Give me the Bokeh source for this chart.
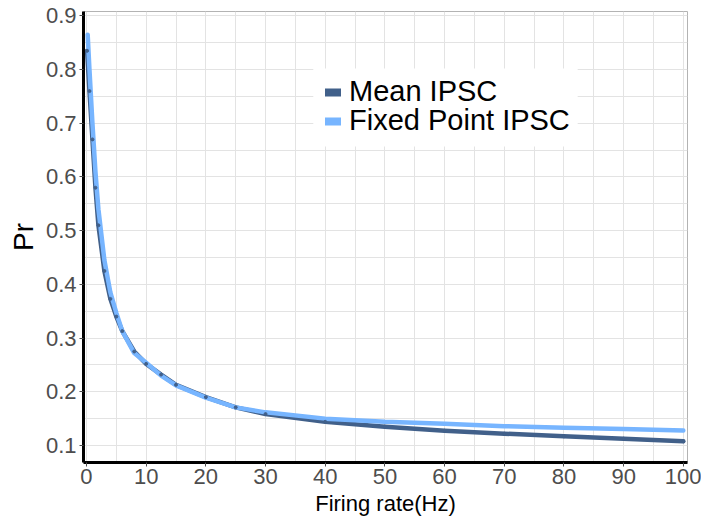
from bokeh.plotting import figure
from bokeh.models import Range1d, Legend, LegendItem, ColumnDataSource, FixedTicker, BoxAnnotation
from bokeh.embed import file_html
from bokeh.resources import INLINE

# Data
mean_rate = [0.1, 0.5, 1, 1.5, 2, 3, 4, 5, 6, 8, 10, 12.5, 15, 20, 25, 30, 40, 50, 60, 70, 80, 90, 100]
mean_pr = [0.835, 0.76, 0.67, 0.58, 0.51, 0.425, 0.373, 0.34, 0.313, 0.275, 0.252, 0.232, 0.213,
           0.19, 0.171, 0.1585, 0.144, 0.135, 0.1275, 0.122, 0.117, 0.1127, 0.1077]
fixed_rate = [0.2, 0.5, 1, 1.5, 2, 3, 4, 5, 6, 8, 10, 12.5, 15, 20, 25, 30, 40, 50, 60, 70, 80, 90, 100]
fixed_pr = [0.865, 0.80, 0.70, 0.61, 0.54, 0.445, 0.385, 0.347, 0.313, 0.272, 0.254, 0.230, 0.212,
            0.189, 0.171, 0.1617, 0.150, 0.144, 0.1405, 0.136, 0.133, 0.1305, 0.128]
x_ticks = [0, 10, 20, 30, 40, 50, 60, 70, 80, 90, 100]
y_ticks = [0.1, 0.2, 0.3, 0.4, 0.5, 0.6, 0.7, 0.8, 0.9]
series_names = ["Mean IPSC", "Fixed Point IPSC"]
series_colors = ["#41608A", "#77B5FF"]

p = figure(width=701, height=520, output_backend="svg", toolbar_location=None,
           x_range=Range1d(-0.5, 100.7), y_range=Range1d(0.0683, 0.9082),
           min_border_left=83, min_border_right=14, min_border_top=11, min_border_bottom=58)

p.background_fill_color = "white"
p.border_fill_color = "white"
p.outline_line_color = "#b3b3b3"
p.outline_line_width = 1

for g in (p.xgrid[0], p.ygrid[0]):
    g.grid_line_color = "#e3e3e3"
    g.grid_line_width = 1
    g.minor_grid_line_color = "#e3e3e3"
    g.minor_grid_line_width = 1

p.xaxis.ticker = FixedTicker(ticks=x_ticks, minor_ticks=[x + 5 for x in x_ticks])
p.yaxis.ticker = FixedTicker(ticks=y_ticks, minor_ticks=[round(y + 0.05, 3) for y in [0.0] + y_ticks])

for ax in (p.xaxis[0], p.yaxis[0]):
    ax.axis_line_color = "black"
    ax.axis_line_width = 3
    ax.major_tick_line_color = "#4d4d4d"
    ax.major_tick_in = 0
    ax.major_tick_out = 4
    ax.minor_tick_line_color = None
    ax.major_label_text_color = "#4d4d4d"
    ax.major_label_text_font = "Liberation Sans"
    ax.major_label_text_font_size = "22px"
    ax.axis_label_text_font = "Liberation Sans"
    ax.axis_label_text_font_style = "normal"
    ax.axis_label_text_color = "black"

p.xaxis.axis_label = "Firing rate(Hz)"
p.xaxis.axis_label_text_font_size = "22px"
p.xaxis.axis_label_standoff = 4
p.xaxis.major_label_standoff = 2
p.yaxis.axis_label = "Pr"
p.yaxis.axis_label_text_font_size = "28px"
p.yaxis.axis_label_standoff = 4
p.yaxis.major_label_standoff = 3

# white panel behind the legend keys (covers the grid, as in the reference)
p.add_layout(BoxAnnotation(left=38.0, right=82.3, bottom=0.657, top=0.802,
                           fill_color="white", fill_alpha=1, line_color=None))

src_mean = ColumnDataSource(dict(x=mean_rate, y=mean_pr))
src_fixed = ColumnDataSource(dict(x=fixed_rate, y=fixed_pr))

p.line("x", "y", source=src_mean, line_color=series_colors[0], line_width=4.5,
       line_cap="round", line_join="round")
p.line("x", "y", source=src_fixed, line_color=series_colors[1], line_width=4.5,
       line_cap="round", line_join="round")
p.scatter("x", "y", source=src_mean, size=3, color=series_colors[0])

# legend-only glyphs (thick keys), placed outside the visible ranges
hidden = ColumnDataSource(dict(x=[-50, -49], y=[-1, -1]))
k1 = p.line("x", "y", source=hidden, line_color=series_colors[0], line_width=8, line_cap="round")
k2 = p.line("x", "y", source=hidden, line_color=series_colors[1], line_width=8, line_cap="round")


def make_legend(label, renderer, loc):
    lg = Legend(items=[LegendItem(label=label, renderers=[renderer])], location=loc)
    lg.label_text_font = "Liberation Sans"
    lg.label_text_font_size = "29px"
    lg.label_text_color = "black"
    lg.label_height = 24
    lg.label_standoff = 8
    lg.glyph_width = 16
    lg.glyph_height = 24
    lg.spacing = 0
    lg.padding = 0
    lg.margin = 0
    lg.border_line_color = None
    lg.background_fill_alpha = 0
    return lg


p.add_layout(make_legend(series_names[0], k1, (242, 354)))
p.add_layout(make_legend(series_names[1], k2, (242, 325)))

open("out.html", "w").write(file_html(p, INLINE))
